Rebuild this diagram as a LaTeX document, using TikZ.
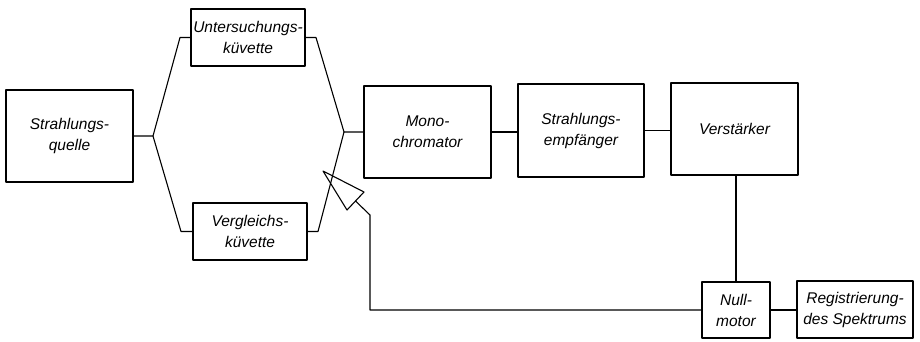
\documentclass[tikz,border=0pt]{standalone}
\usepackage{fontspec}
\setmainfont{Liberation Sans}
\begin{document}
\begin{tikzpicture}[x=1pt,y=-1pt,
  line width=1.1pt, line join=round,
  box/.style={draw, rectangle, inner sep=0pt, align=center,
    font=\fontsize{15.5}{21}\selectfont\itshape}]
\useasboundingbox (0,0) rectangle (920,341);
\node[box, minimum width=127pt, minimum height=92pt] (sq) at (69.5,136) {Strahlungs-\\quelle};
\node[box, minimum width=114pt, minimum height=57pt] (uk) at (248,37.5) {Untersuchungs-\\küvette};
\node[box, minimum width=114pt, minimum height=57pt] (vk) at (250,231.5) {Vergleichs-\\küvette};
\node[box, minimum width=127pt, minimum height=92pt] (mono) at (427.5,132) {Mono-\\chromator};
\node[box, minimum width=126pt, minimum height=93pt] (emp) at (581,130.5) {Strahlungs-\\empfänger};
\node[box, minimum width=127pt, minimum height=92pt] (verst) at (734.5,129) {Verstärker};
\node[box, minimum width=68pt, minimum height=56pt] (null) at (736,310) {Null-\\motor};
\node[box, minimum width=116pt, minimum height=57pt] (reg) at (855,309.5) {Registrierung-\\des Spektrums};
\coordinate (jl) at (153,136);
\coordinate (jr) at (344,132);
\coordinate (tip) at (323,171);
\coordinate (b1) at (364,192);
\coordinate (b2) at (347,210);
\coordinate (bm) at (355.5,201);
\coordinate (fb) at (370,215);
% left branching
\draw (sq.east |- jl) -- (jl) -- (180,37.5) -- (uk.west);
\draw (jl) -- (181,231.5) -- (vk.west);
% right merging
\draw (uk.east) -- (316,37.5) -- (jr) -- (mono.west |- jr);
\draw (vk.east) -- (318,231.5) -- (jr);
% chain
\draw (mono.east) -- (mono.east -| emp.west);
\draw (emp.east) -- (emp.east -| verst.west);
\draw (verst.south -| null.north) -- (null.north);
\draw (null.east) -- (null.east -| reg.west);
% feedback
\draw (null.west) -- (fb |- null.west) -- (fb) -- (bm);
\draw (tip) -- (b1) -- (b2) -- cycle;
\end{tikzpicture}
\end{document}
